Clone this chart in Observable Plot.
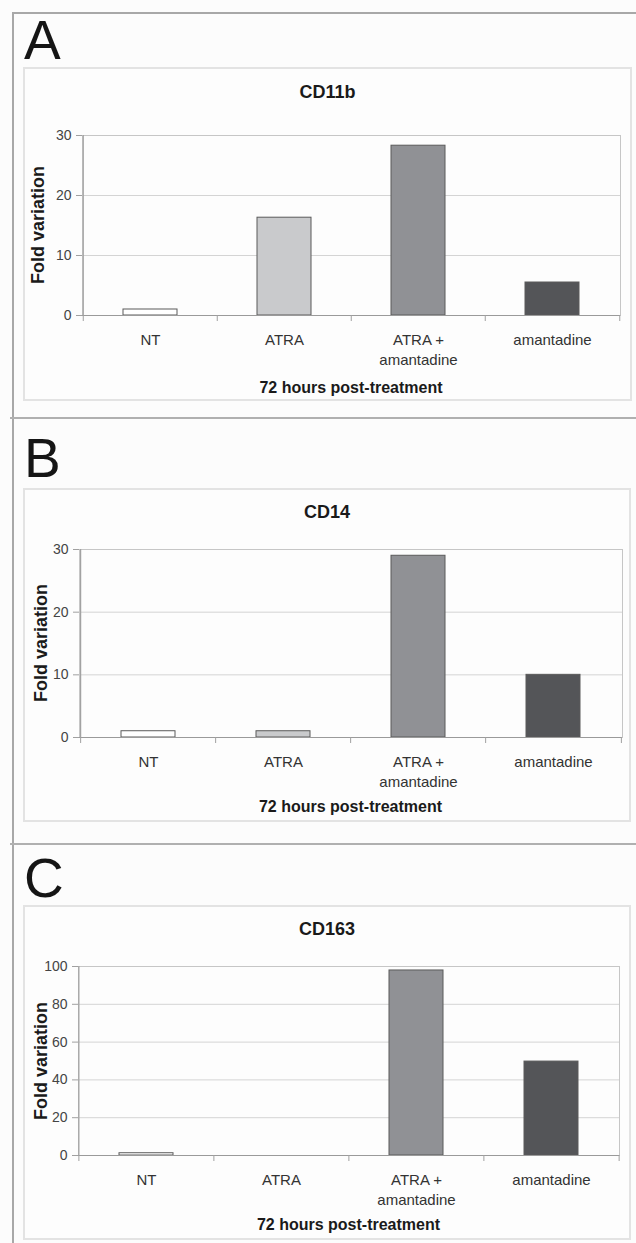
<!DOCTYPE html>
<html>
<head>
<meta charset="utf-8">
<script src="https://cdn.jsdelivr.net/npm/d3@7"></script>
<script src="https://cdn.jsdelivr.net/npm/@observablehq/plot@0.6"></script>
<style>
  body { margin: 0; background: #fcfcfc; font-family: "Liberation Sans", Arial, sans-serif; }
  #page { position: relative; width: 636px; height: 1243px; overflow: hidden; background: #fcfcfc; }
  .line { position: absolute; background: #a8a8a8; }
  .letter { position: absolute; font-size: 55px; line-height: 1; color: #151515; }
  .box { position: absolute; border: 2px solid #e3e3e3; box-sizing: border-box; background: #fdfdfd; }
  .ctext { position: absolute; line-height: 1; white-space: nowrap; transform: translate(-50%, -50%); color: #1a1a1a; }
  .title { font-weight: bold; font-size: 18px; }
  .xlabel { font-weight: bold; font-size: 16px; }
  .ylabel { font-weight: bold; font-size: 18px; transform: translate(-50%, -50%) rotate(-90deg); }
  .plot { position: absolute; }
</style>
</head>
<body>
<div id="page"></div>
<script>
// ---- data ----
const categories = ["NT", "ATRA", "ATRA + amantadine", "amantadine"];
const panelLetters = ["A", "B", "C"];
const markers = ["CD11b", "CD14", "CD163"];
const cd11bValues = [1, 16.3, 28.3, 5.5];
const cd14Values = [1, 1, 29, 10];
const cd163Values = [1.2, 0, 97.9, 49.7];
const cd11bTicks = [0, 10, 20, 30];
const cd14Ticks = [0, 10, 20, 30];
const cd163Ticks = [0, 20, 40, 60, 80, 100];
const yLabel = "Fold variation";
const xLabel = "72 hours post-treatment";
const barColors = ["#ffffff", "#c9cacc", "#909195", "#545558"];

const seriesValues = [cd11bValues, cd14Values, cd163Values];
const seriesTicks = [cd11bTicks, cd14Ticks, cd163Ticks];

// ---- layout (pixels) ----
const layouts = [
  {box: {x: 23, y: 67, w: 609, h: 334}, plot: {l: 82, r: 620, t: 135, b: 315}, titleY: 92, xlabelY: 388, letterTop: 13, ylabelX: 38},
  {box: {x: 23, y: 488, w: 608, h: 334}, plot: {l: 79, r: 622, t: 549, b: 737}, titleY: 512, xlabelY: 807, letterTop: 431, ylabelX: 41},
  {box: {x: 23, y: 905, w: 608, h: 335}, plot: {l: 78, r: 619, t: 966, b: 1155}, titleY: 929, xlabelY: 1225, letterTop: 851, ylabelX: 41}
];

const page = document.getElementById("page");
function addDiv(cls, style, text) {
  const d = document.createElement("div");
  d.className = cls;
  Object.assign(d.style, style);
  if (text != null) d.textContent = text;
  page.appendChild(d);
  return d;
}

// outer frame lines
addDiv("line", {left: "12px", top: "13px", width: "2px", height: "1230px"});
addDiv("line", {left: "12px", top: "12px", width: "624px", height: "2px"});
addDiv("line", {left: "10px", top: "417px", width: "626px", height: "1.5px", background: "#b0b0b0"});
addDiv("line", {left: "10px", top: "843px", width: "626px", height: "2px", background: "#b0b0b0"});

layouts.forEach((L, k) => {
  const values = seriesValues[k];
  const ticks = seriesTicks[k];
  const data = categories.map((c, i) => ({cat: c, value: values[i]}));

  addDiv("letter", {left: "24px", top: L.letterTop + "px"}, panelLetters[k]);
  addDiv("box", {left: L.box.x + "px", top: L.box.y + "px", width: L.box.w + "px", height: L.box.h + "px"});

  const marginLeft = L.plot.l - L.box.x;
  const marginRight = L.box.x + L.box.w - L.plot.r;
  const marginTop = L.plot.t - L.box.y;
  const marginBottom = L.box.y + L.box.h - L.plot.b;
  const frameW = L.plot.r - L.plot.l;
  const frameH = L.plot.b - L.plot.t;
  const step = frameW / categories.length;

  const chart = Plot.plot({
    width: L.box.w,
    height: L.box.h,
    marginLeft, marginRight, marginTop, marginBottom,
    style: {background: "transparent", fontFamily: "Liberation Sans, Arial, sans-serif", overflow: "visible"},
    x: {domain: categories, paddingInner: 0.6, paddingOuter: 0.3, axis: null},
    y: {domain: [ticks[0], ticks[ticks.length - 1]], axis: null},
    color: {domain: categories, range: barColors},
    marks: [
      Plot.gridY(ticks.slice(1, -1), {stroke: "#d4d4d4", strokeOpacity: 1}),
      Plot.frame({stroke: "#c6c6c6"}),
      Plot.barY(data, {x: "cat", y: "value", fill: "cat", stroke: "#5a5a5a", strokeWidth: 1}),
      Plot.ruleY([0], {stroke: "#9a9a9a", strokeWidth: 1.2}),
      Plot.ruleX([categories[0]], {x: d => d, dx: -step / 2, stroke: "#a0a0a0", strokeWidth: 1.2}),
      Plot.ruleX(categories, {x: d => d, dx: -step / 2, insetTop: frameH, insetBottom: -6, stroke: "#a0a0a0"}),
      Plot.ruleX([categories[categories.length - 1]], {x: d => d, dx: step / 2, insetTop: frameH, insetBottom: -6, stroke: "#a0a0a0"}),
      Plot.axisY({ticks, tickSize: 6, tickPadding: 5, fontSize: 14, label: null, stroke: "#a0a0a0", fill: "#444"}),
      Plot.axisX({tickSize: 0, tickPadding: 15, fontSize: 15, label: null, fill: "#333",
                  lineHeight: 1.33, tickFormat: d => d.replace(" + ", " +\n")})
    ]
  });
  chart.classList.add("plot");
  chart.style.left = L.box.x + "px";
  chart.style.top = L.box.y + "px";
  page.appendChild(chart);

  addDiv("ctext title", {left: (L.box.x + L.box.w / 2) + "px", top: L.titleY + "px"}, markers[k]);
  addDiv("ctext xlabel", {left: ((L.plot.l + L.plot.r) / 2) + "px", top: L.xlabelY + "px"}, xLabel);
  addDiv("ctext ylabel", {left: L.ylabelX + "px", top: ((L.plot.t + L.plot.b) / 2) + "px"}, yLabel);
});
</script>
</body>
</html>
